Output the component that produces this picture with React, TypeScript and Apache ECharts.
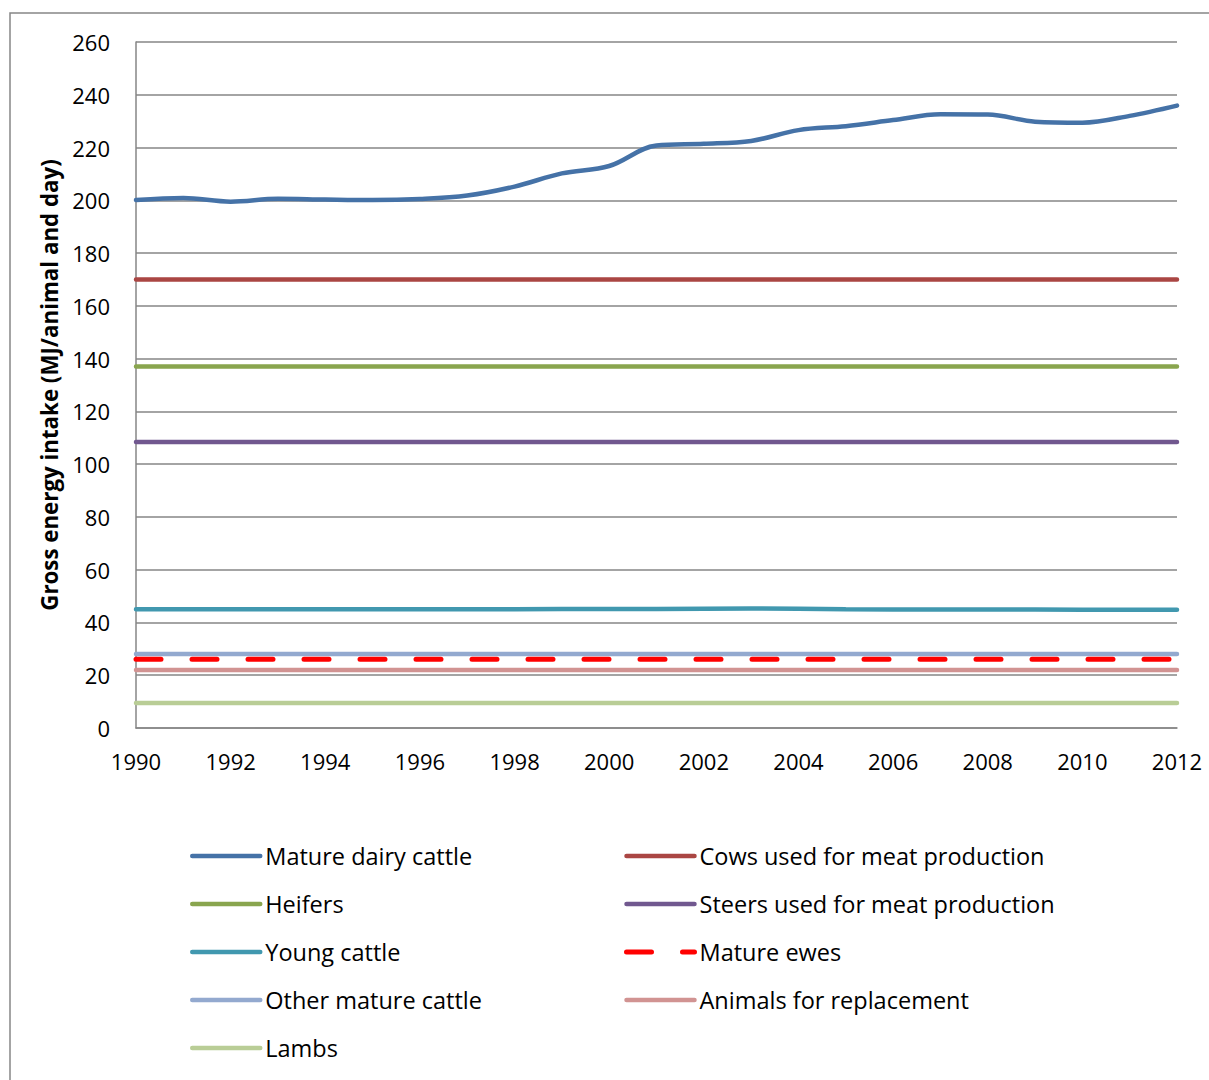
import React, { useEffect, useRef } from "react";
import * as echarts from "echarts";

const years = [
  "1990", "1991", "1992", "1993", "1994", "1995", "1996", "1997", "1998", "1999", "2000", "2001",
  "2002", "2003", "2004", "2005", "2006", "2007", "2008", "2009", "2010", "2011", "2012",
];

const matureDairy = [
  200.1, 200.9, 199.5, 200.6, 200.3, 200.1, 200.5, 201.8, 205.2, 210.2, 213.0, 220.8,
  221.4, 222.5, 226.6, 228.1, 230.4, 232.6, 232.5, 229.8, 229.4, 232.0, 235.9,
];
const cowsMeat = years.map(() => 170);
const heifers = years.map(() => 137);
const steersMeat = years.map(() => 108.4);
const youngCattle = [
  45.0, 45.0, 45.0, 45.0, 45.0, 45.0, 45.0, 45.0, 45.0, 45.1, 45.1, 45.1,
  45.2, 45.3, 45.2, 45.0, 44.9, 44.9, 44.9, 44.9, 44.8, 44.8, 44.8,
];
const matureEwes = years.map(() => 26.1);
const otherMature = years.map(() => 28);
const replacement = years.map(() => 22);
const lambs = years.map(() => 9.5);

const seriesNames = [
  "Mature dairy cattle",
  "Cows used for meat production",
  "Heifers",
  "Steers used for meat production",
  "Young cattle",
  "Mature ewes",
  "Other mature cattle",
  "Animals for replacement",
  "Lambs",
];
const seriesData = [
  matureDairy, cowsMeat, heifers, steersMeat, youngCattle, matureEwes, otherMature, replacement, lambs,
];
const seriesColors = [
  "#4572A7", "#AA4643", "#89A54E", "#71588F", "#4198AF", "#FF0000", "#93A9CF", "#D19392", "#B9CD96",
];

const FONT = "'Open Sans', 'Noto Sans', sans-serif";

export default function App() {
  const ref = useRef<HTMLDivElement>(null);
  useEffect(() => {
    document.body.style.margin = "0";
    const chart = echarts.init(ref.current!, null, { renderer: "svg" });
    const legendText = { fontFamily: FONT, fontSize: 23.5, color: "#000", lineHeight: 24 };
    const legendCommon = {
      orient: "vertical",
      top: 839,
      itemWidth: 68,
      itemHeight: 14,
      itemGap: 24,
      textStyle: legendText,
      itemStyle: { opacity: 0 },
      lineStyle: { width: "inherit", type: "inherit", cap: "round" },
    };
    chart.setOption({
      animation: false,
      backgroundColor: "#fff",
      textStyle: { fontFamily: FONT },
      graphic: [
        {
          type: "rect",
          shape: { x: 10, y: 13, width: 1300, height: 1200 },
          style: { fill: "none", stroke: "#868686", lineWidth: 1.5 },
          silent: true,
        },
      ],
      grid: { left: 136, right: 32, top: 42, bottom: 352, containLabel: false },
      legend: [
        {
          ...legendCommon,
          left: 185,
          data: [seriesNames[0], seriesNames[2], seriesNames[4], seriesNames[6], seriesNames[8]],
        },
        {
          ...legendCommon,
          left: 619,
          data: [seriesNames[1], seriesNames[3], seriesNames[5], seriesNames[7]],
        },
      ],
      xAxis: {
        type: "category",
        data: years,
        boundaryGap: false,
        axisLine: { lineStyle: { color: "#868686", width: 1.5 } },
        axisTick: { show: false },
        axisLabel: {
          interval: 1,
          fontSize: 22,
          color: "#000",
          fontFamily: FONT,
          margin: 22,
        },
        splitLine: { show: false },
      },
      yAxis: {
        type: "value",
        min: 0,
        max: 260,
        interval: 20,
        name: "Gross energy intake (MJ/animal and day)",
        nameLocation: "middle",
        nameGap: 76,
        nameTextStyle: { fontSize: 22.3, fontWeight: "bold", color: "#000", fontFamily: FONT },
        axisLine: { show: true, lineStyle: { color: "#868686", width: 1.5 } },
        axisTick: { show: false },
        axisLabel: { fontSize: 22, color: "#000", fontFamily: FONT, margin: 26 },
        splitLine: { lineStyle: { color: "#868686", width: 1.5 } },
      },
      series: seriesNames.map((name, i) => ({
        name,
        type: "line",
        data: seriesData[i],
        smooth: i === 0 ? 0.35 : false,
        symbol: "none",
        color: seriesColors[i],
        lineStyle: {
          color: seriesColors[i],
          width: i === 5 ? 5 : 4.5,
          type: i === 5 ? [25, 31] : "solid",
          cap: "round",
        },
        z: i === 5 ? 3 : 2,
      })),
    });
    return () => chart.dispose();
  }, []);
  return <div ref={ref} style={{ width: 1209, height: 1080 }} />;
}
